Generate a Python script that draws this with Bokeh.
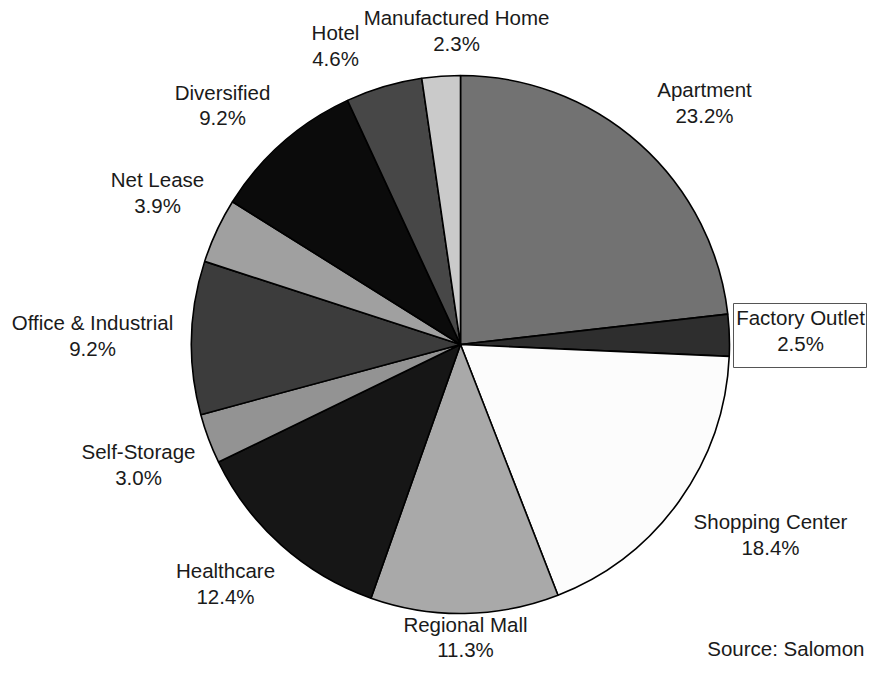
import numpy as np
from bokeh.plotting import figure
from bokeh.models import Range1d, ColumnDataSource
from bokeh.core.properties import value
from bokeh.embed import file_html
from bokeh.resources import INLINE

# ---- data ----
categories = ["Apartment", "Factory Outlet", "Shopping Center", "Regional Mall",
              "Healthcare", "Self-Storage", "Office & Industrial", "Net Lease",
              "Diversified", "Hotel", "Manufactured Home"]
shares = [23.2, 2.5, 18.4, 11.3, 12.4, 3.0, 9.2, 3.9, 9.2, 4.6, 2.3]
source_note = "Source: Salomon"

# ---- styles / layout ----
fills = ["#727272", "#2e2e2e", "#fcfcfc", "#a9a9a9", "#161616", "#939393",
         "#3c3c3c", "#a0a0a0", "#0b0b0b", "#474747", "#cacaca"]
# label centres in picture pixels: (x, y of first line, gap to second line)
label_pos = [(704, 89, 26), (800, 317, 26), (770, 521, 26), (465, 624, 25),
             (225, 570, 26), (138, 451, 26), (92, 322, 26), (157, 179, 26),
             (222, 92, 25), (335, 32, 26), (456, 17, 26)]
W, H = 867, 661


def px(x):
    return x


def py(y):
    return H - y


cx, cy, R = px(460), py(344), 269

p = figure(width=W, height=H, x_range=Range1d(0, W), y_range=Range1d(0, H),
           output_backend="svg", toolbar_location=None,
           x_axis_type=None, y_axis_type=None, min_border=0,
           outline_line_color=None, background_fill_color="white",
           border_fill_color="white")

frac = np.array(shares) / sum(shares)
cum = np.concatenate([[0.0], np.cumsum(frac)])
start = np.pi / 2 - 2 * np.pi * cum[:-1]
end = np.pi / 2 - 2 * np.pi * cum[1:]

src = ColumnDataSource(dict(start=start, end=end, fill=fills))
p.wedge(x=cx, y=cy, radius=R, start_angle="start", end_angle="end",
        direction="clock", fill_color="fill", line_color="black",
        line_width=1.6, source=src)

# Factory Outlet callout box
p.quad(left=px(733), right=px(866), top=py(303), bottom=py(367),
       fill_color=None, line_color="#555555", line_width=1)

lx = [px(a) for a, b, g in label_pos]
ly1 = [py(b) for a, b, g in label_pos]
ly2 = [py(b + g) for a, b, g in label_pos]
pct = [f"{v:.1f}%" for v in shares]

common = dict(text_align="center", text_baseline="middle",
              text_font=value("Liberation Sans"), text_font_size="20.5px",
              text_color="#1a1a1a")
p.text(x=lx, y=ly1, text=categories, **common)
p.text(x=lx, y=ly2, text=pct, **common)

p.text(x=[px(864)], y=[py(648)], text=[source_note], text_align="right",
       text_baseline="middle", text_font=value("Liberation Sans"),
       text_font_size="20.5px", text_color="#1a1a1a")

open("out.html", "w").write(file_html(p, INLINE))
